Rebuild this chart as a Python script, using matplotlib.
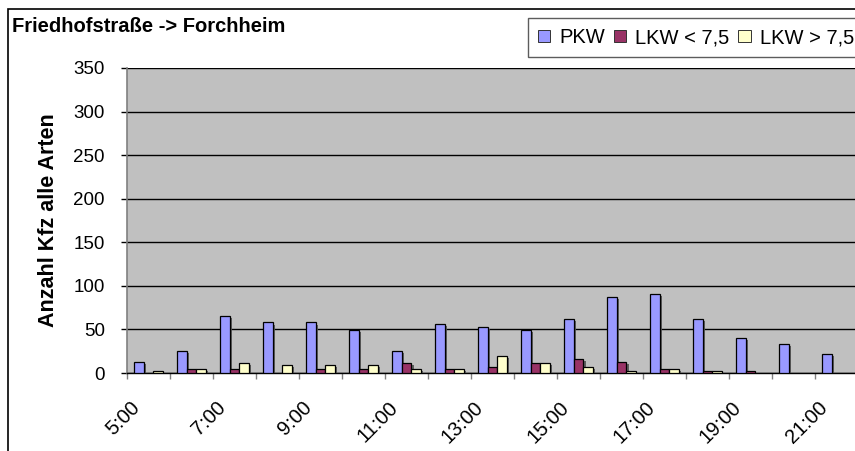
import matplotlib
matplotlib.use("Agg")
import matplotlib.pyplot as plt
import matplotlib.patheffects as pe
from matplotlib.patches import Rectangle
from matplotlib.transforms import ScaledTranslation
import numpy as np

plt.rcParams["font.family"] = ["Liberation Sans", "DejaVu Sans"]

hours = [f"{h}:00" for h in range(5, 22)]
series_names = ["PKW", "LKW < 7,5", "LKW > 7,5"]
pkw = [13, 25, 65, 58, 58, 49, 25, 56, 53, 49, 62, 87, 91, 62, 40, 33, 22]
lkw_small = [0, 5, 5, 0, 5, 5, 11, 5, 7, 11, 16, 13, 5, 2, 2, 0, 0]
lkw_big = [2, 5, 11, 9, 9, 9, 5, 5, 20, 11, 7, 2, 5, 2, 0, 0, 0]
colors = ["#9999FF", "#993366", "#FFFFCC"]

W, H = 855, 451
fig = plt.figure(figsize=(W / 100, H / 100), dpi=100)
ax = fig.add_axes([127 / W, 1 - 373 / H, 731 / W, 305 / H])
ax.set_facecolor("#C0C0C0")

x = np.arange(len(hours))
width = 0.23
shadow = [pe.SimplePatchShadow(offset=(1.5, -1.5), shadow_rgbFace="#555555", alpha=0.9), pe.Normal()]
handles = []
for i, (vals, c) in enumerate(zip([pkw, lkw_small, lkw_big], colors)):
    bars = ax.bar(x + (i - 1) * width, vals, width, color=c, edgecolor="black",
                  linewidth=0.9, zorder=3)
    for b in bars:
        if b.get_height() > 0:
            b.set_path_effects(shadow)
        else:
            b.set_visible(False)
    handles.append(Rectangle((0, 0), 1, 1, facecolor=c, edgecolor="#333333", linewidth=0.7))

ax.set_xlim(-0.5, len(hours) - 0.5)
ax.set_ylim(0, 350)
ax.set_yticks(range(0, 351, 50))
ax.yaxis.grid(True, color="black", linewidth=1.0, zorder=1)
ax.set_axisbelow(True)

# category boundary ticks, labels every second hour
ax.set_xticks(np.arange(-0.5, len(hours) - 0.4, 1.0))
ax.set_xticklabels([])
ax.tick_params(axis="x", which="major", direction="out", length=4, width=1, color="#808080")
ax.set_xticks(x[::2], minor=True)
ax.set_xticklabels(hours[::2], minor=True, rotation=45, ha="right", va="center",
                   rotation_mode="anchor", fontsize=14.5)
ax.tick_params(axis="x", which="minor", length=0, pad=23)
off = ScaledTranslation(-12 / 100, 0, fig.dpi_scale_trans)
for lab in ax.get_xticklabels(minor=True):
    lab.set_transform(lab.get_transform() + off)

ax.tick_params(axis="y", direction="out", length=4, width=1, color="black", pad=12, labelsize=13.5)
for s in ["top", "right"]:
    ax.spines[s].set_visible(False)
ax.spines["left"].set_color("#808080")
ax.spines["left"].set_linewidth(1.2)
ax.spines["bottom"].set_color("black")
ax.spines["bottom"].set_linewidth(1.0)

fig.text(48 / W, 1 - 220 / H, "Anzahl Kfz alle Arten", rotation=90, fontsize=15.5,
         fontweight="bold", ha="center", va="center")
fig.text(12 / W, 1 - 27 / H, "Friedhofstraße -> Forchheim", fontsize=14.5,
         fontweight="bold", ha="left", va="center")

leg = fig.legend(handles, series_names, loc="upper left", bbox_to_anchor=(528 / W, 1 - 18 / H),
                 ncol=3, fontsize=14.5, frameon=True, fancybox=False, handlelength=0.6,
                 handleheight=0.6, handletextpad=0.45, columnspacing=0.45, borderpad=0.5,
                 borderaxespad=0)
leg.get_frame().set_edgecolor("#333333")
leg.get_frame().set_linewidth(1.0)

fig.patches.append(Rectangle((8 / W, -0.1), 2, 1.1 - 9 / H, fill=False, edgecolor="black",
                             linewidth=1.2, transform=fig.transFigure, figure=fig))

fig.savefig("out.png", dpi=100)
